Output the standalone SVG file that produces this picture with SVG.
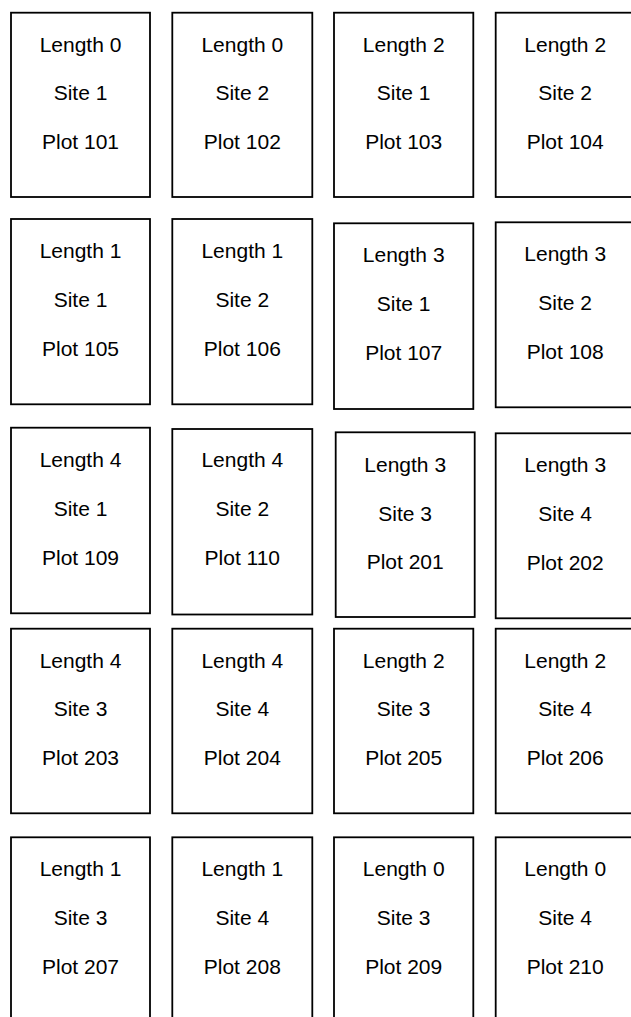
<svg xmlns="http://www.w3.org/2000/svg" width="631" height="1017" viewBox="0 0 631 1017">
<style>
.b{fill:#fff;stroke:#000;stroke-width:1.8}
.t{font-family:"Liberation Sans",Arial,sans-serif;font-size:21px;fill:#000;text-anchor:middle}
</style>
<rect width="631" height="1017" fill="#fff"/>
<g id="p101"><rect class="b" x="11" y="12.7" width="139" height="184.3"/><text class="t" x="80.5" y="51.7">Length 0</text><text class="t" x="80.5" y="100">Site 1</text><text class="t" x="80.5" y="149">Plot 101</text></g>
<g id="p102"><rect class="b" x="172.3" y="12.7" width="140" height="184.3"/><text class="t" x="242.3" y="51.7">Length 0</text><text class="t" x="242.3" y="100">Site 2</text><text class="t" x="242.3" y="149">Plot 102</text></g>
<g id="p103"><rect class="b" x="334" y="12.7" width="139.3" height="184.3"/><text class="t" x="403.7" y="51.7">Length 2</text><text class="t" x="403.7" y="100">Site 1</text><text class="t" x="403.7" y="149">Plot 103</text></g>
<g id="p104"><rect class="b" x="495.7" y="12.7" width="139" height="184.3"/><text class="t" x="565.2" y="51.7">Length 2</text><text class="t" x="565.2" y="100">Site 2</text><text class="t" x="565.2" y="149">Plot 104</text></g>

<g id="p105"><rect class="b" x="11" y="219" width="139" height="185.3"/><text class="t" x="80.5" y="258.3">Length 1</text><text class="t" x="80.5" y="307.3">Site 1</text><text class="t" x="80.5" y="355.7">Plot 105</text></g>
<g id="p106"><rect class="b" x="172.3" y="219" width="140" height="185.3"/><text class="t" x="242.3" y="258.3">Length 1</text><text class="t" x="242.3" y="307.3">Site 2</text><text class="t" x="242.3" y="355.7">Plot 106</text></g>
<g id="p107"><rect class="b" x="334" y="223.3" width="139.3" height="185.7"/><text class="t" x="403.7" y="261.7">Length 3</text><text class="t" x="403.7" y="310.7">Site 1</text><text class="t" x="403.7" y="360">Plot 107</text></g>
<g id="p108"><rect class="b" x="495.7" y="222.3" width="139" height="185"/><text class="t" x="565.2" y="261">Length 3</text><text class="t" x="565.2" y="310">Site 2</text><text class="t" x="565.2" y="359">Plot 108</text></g>

<g id="p109"><rect class="b" x="11" y="427.7" width="139" height="185.6"/><text class="t" x="80.5" y="467.3">Length 4</text><text class="t" x="80.5" y="516">Site 1</text><text class="t" x="80.5" y="565">Plot 109</text></g>
<g id="p110"><rect class="b" x="172.3" y="429" width="140" height="185.5"/><text class="t" x="242.3" y="467.3">Length 4</text><text class="t" x="242.3" y="516">Site 2</text><text class="t" x="242.3" y="565">Plot 110</text></g>
<g id="p201"><rect class="b" x="335.7" y="432.3" width="139" height="184.7"/><text class="t" x="405.2" y="471.7">Length 3</text><text class="t" x="405.2" y="520.7">Site 3</text><text class="t" x="405.2" y="569.3">Plot 201</text></g>
<g id="p202"><rect class="b" x="495.7" y="433.3" width="139" height="185"/><text class="t" x="565.2" y="472.3">Length 3</text><text class="t" x="565.2" y="521">Site 4</text><text class="t" x="565.2" y="570">Plot 202</text></g>

<g id="p203"><rect class="b" x="11" y="628.7" width="139" height="184.6"/><text class="t" x="80.5" y="667.7">Length 4</text><text class="t" x="80.5" y="716">Site 3</text><text class="t" x="80.5" y="765">Plot 203</text></g>
<g id="p204"><rect class="b" x="172.3" y="628.7" width="140" height="184.6"/><text class="t" x="242.3" y="667.7">Length 4</text><text class="t" x="242.3" y="716">Site 4</text><text class="t" x="242.3" y="765">Plot 204</text></g>
<g id="p205"><rect class="b" x="334" y="628.7" width="139.3" height="184.6"/><text class="t" x="403.7" y="667.7">Length 2</text><text class="t" x="403.7" y="716">Site 3</text><text class="t" x="403.7" y="765">Plot 205</text></g>
<g id="p206"><rect class="b" x="495.7" y="628.7" width="139" height="184.6"/><text class="t" x="565.2" y="667.7">Length 2</text><text class="t" x="565.2" y="716">Site 4</text><text class="t" x="565.2" y="765">Plot 206</text></g>

<g id="p207"><rect class="b" x="11" y="837.3" width="139" height="184.6"/><text class="t" x="80.5" y="876">Length 1</text><text class="t" x="80.5" y="925">Site 3</text><text class="t" x="80.5" y="974">Plot 207</text></g>
<g id="p208"><rect class="b" x="172.3" y="837.3" width="140" height="184.6"/><text class="t" x="242.3" y="876">Length 1</text><text class="t" x="242.3" y="925">Site 4</text><text class="t" x="242.3" y="974">Plot 208</text></g>
<g id="p209"><rect class="b" x="334" y="837.3" width="139.3" height="184.6"/><text class="t" x="403.7" y="876">Length 0</text><text class="t" x="403.7" y="925">Site 3</text><text class="t" x="403.7" y="974">Plot 209</text></g>
<g id="p210"><rect class="b" x="495.7" y="837.3" width="139" height="184.6"/><text class="t" x="565.2" y="876">Length 0</text><text class="t" x="565.2" y="925">Site 4</text><text class="t" x="565.2" y="974">Plot 210</text></g>
<g id="connectors"/>
</svg>
